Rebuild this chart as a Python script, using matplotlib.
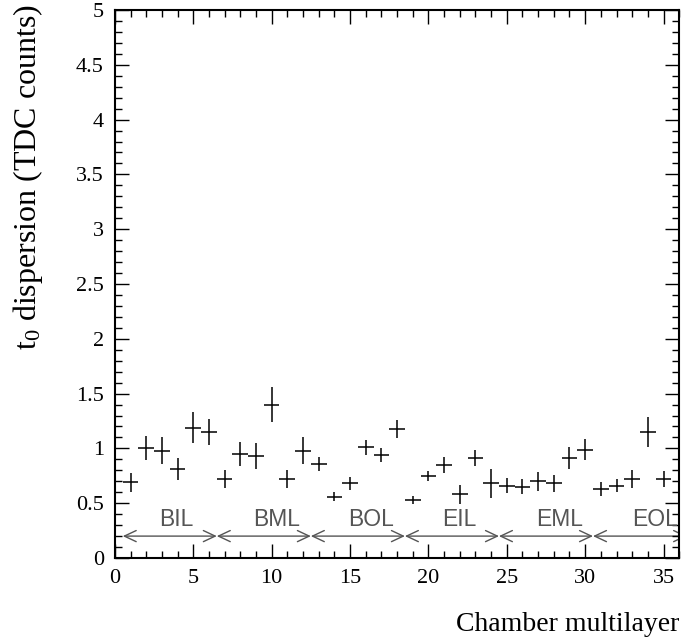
import matplotlib
matplotlib.use("Agg")
import matplotlib.pyplot as plt
from matplotlib.patches import FancyArrowPatch
from matplotlib.ticker import MultipleLocator

# Data
chamber = list(range(1, 36))
t0_disp = [0.69, 1.00, 0.98, 0.81, 1.19, 1.15, 0.72, 0.95, 0.93, 1.40,
           0.72, 0.98, 0.86, 0.56, 0.68, 1.01, 0.94, 1.18, 0.53, 0.75,
           0.85, 0.58, 0.91, 0.68, 0.66, 0.65, 0.70, 0.68, 0.91, 0.99,
           0.63, 0.66, 0.72, 1.15, 0.72]
t0_err = [0.09, 0.11, 0.125, 0.10, 0.14, 0.12, 0.08, 0.11, 0.12, 0.16,
          0.08, 0.12, 0.065, 0.04, 0.056, 0.068, 0.068, 0.083, 0.036, 0.045,
          0.07, 0.083, 0.073, 0.133, 0.07, 0.067, 0.088, 0.076, 0.10, 0.10,
          0.065, 0.058, 0.082, 0.138, 0.076]
groups = ["BIL", "BML", "BOL", "EIL", "EML", "EOL"]
group_edges = [0.5, 6.5, 12.5, 18.5, 24.5, 30.5, 36.5]
group_label_x = [2.8, 8.8, 14.85, 20.85, 26.9, 33.0]
group_line_y = 0.2
group_label_y = 0.29

fig = plt.figure(figsize=(6.84, 6.44), dpi=100)
ax = fig.add_axes([0.168, 0.1335, 0.825, 0.851])

ax.errorbar(chamber, t0_disp, xerr=0.5, yerr=t0_err, fmt='none',
            ecolor='black', elinewidth=1.1, capsize=0)

for i, name in enumerate(groups):
    a, b = group_edges[i], group_edges[i + 1]
    arr = FancyArrowPatch((a, group_line_y), (b, group_line_y),
                          arrowstyle='<->,head_length=0.85,head_width=0.4',
                          mutation_scale=10, color='#555555', lw=1.0,
                          shrinkA=0, shrinkB=0)
    ax.add_patch(arr)
    arr.set_clip_path(ax.patch)
    ax.text(group_label_x[i], group_label_y, name,
            ha='left', va='baseline', fontsize=16.5, color='#555555',
            family='Liberation Sans')

ax.set_xlim(0, 36)
ax.set_ylim(0, 5)
ax.xaxis.set_major_locator(MultipleLocator(5))
ax.xaxis.set_minor_locator(MultipleLocator(1))
ax.yaxis.set_major_locator(MultipleLocator(0.5))
ax.yaxis.set_minor_locator(MultipleLocator(0.1))
ax.tick_params(which='both', direction='in', top=True, right=True, width=1.0)
ax.tick_params(which='major', length=10)
ax.tick_params(which='minor', length=5)
ax.tick_params(axis='both', labelsize=16, pad=8)
ax.set_yticks([0, 0.5, 1, 1.5, 2, 2.5, 3, 3.5, 4, 4.5, 5])
ax.set_yticklabels(['0', '0.5', '1', '1.5', '2', '2.5', '3', '3.5', '4', '4.5', '5'])
for lab in ax.get_xticklabels() + ax.get_yticklabels():
    lab.set_family('Liberation Serif')
for sp in ax.spines.values():
    sp.set_linewidth(1.5)

fig.text(28 / 684, 1 - 4 / 644, r'$\mathregular{t_0}$ dispersion (TDC counts)',
         rotation=90, ha='center', va='top', fontsize=23,
         family='Liberation Serif')
ax.set_xlabel('Chamber multilayer', fontsize=20, family='Liberation Serif',
              loc='right', labelpad=17)

fig.savefig('out.png', dpi=100)
